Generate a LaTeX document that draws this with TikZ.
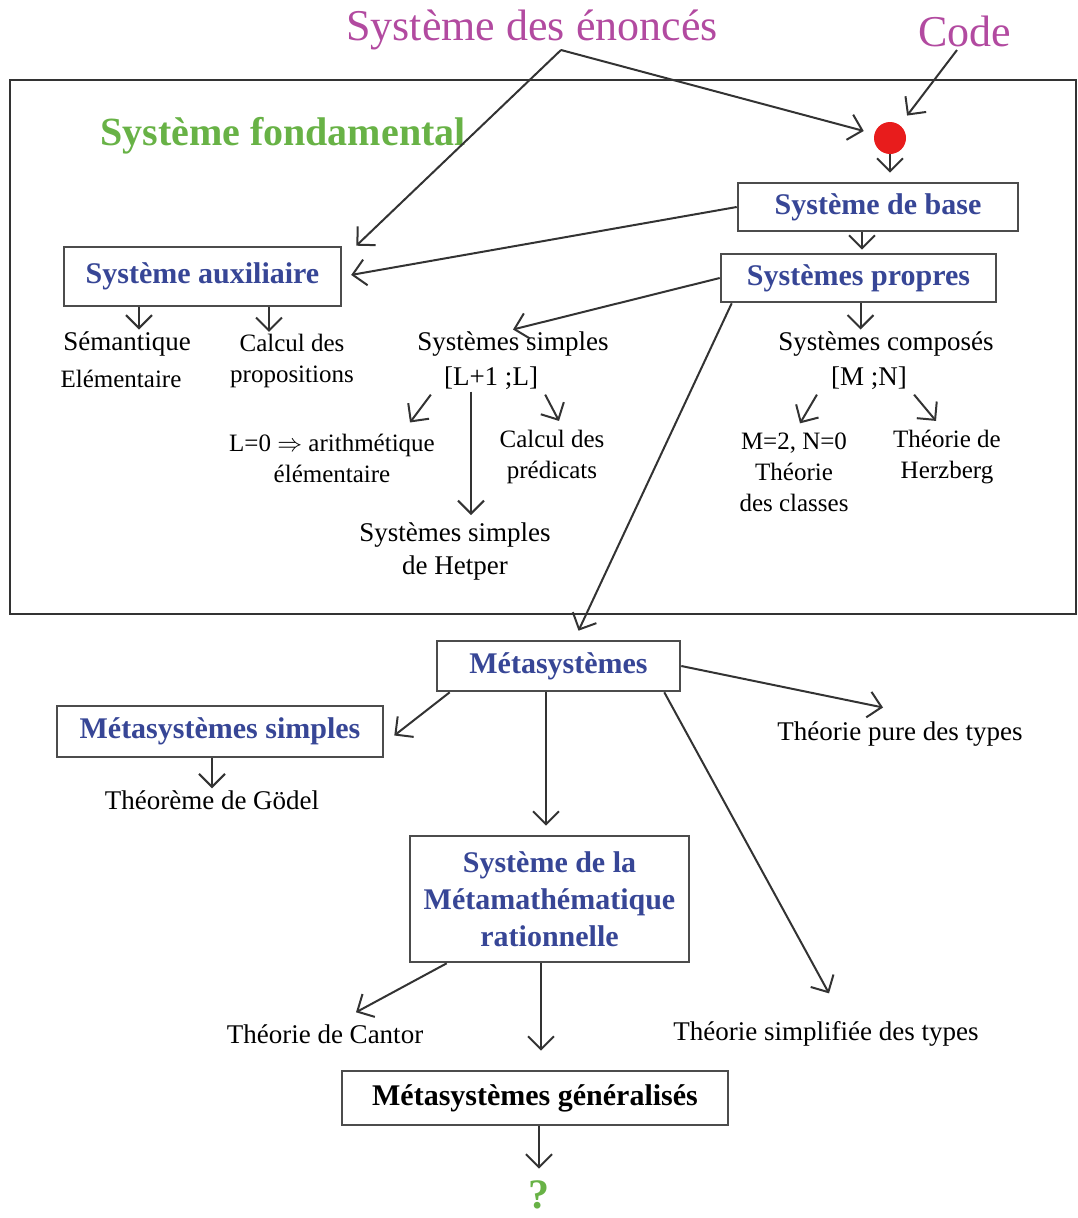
\documentclass[tikz,border=0pt]{standalone}
\usepackage{amsmath}
\usepackage{fontspec}
\setmainfont{Liberation Serif}
\usepackage{tikz}
\usetikzlibrary{arrows.meta, calc, positioning}

\definecolor{boxblue}{RGB}{55,70,150}
\definecolor{titlepink}{RGB}{178,74,160}
\definecolor{titlegreen}{RGB}{104,178,70}
\definecolor{dotred}{RGB}{232,28,28}

\tikzset{
  arr/.style={-{Straight Barb[length=13pt,width=26pt,line width=2pt]}, line width=2pt, black!80},
  sysbox/.style={draw=black!70, line width=2.6pt, fill=white, text=boxblue,
    font=\fontsize{30}{37}\selectfont\bfseries, align=center, inner sep=0pt},
  txt/.style={font=\fontsize{27}{33}\selectfont, align=center, inner sep=2pt},
  smalltxt/.style={font=\fontsize{25}{31}\selectfont, align=center, inner sep=2pt},
}

\begin{document}
\begin{tikzpicture}[x=1pt, y=-1pt]
      \useasboundingbox (0,0) rectangle (1077,1218);
      %
      \draw[line width=2pt, black!80] (10,80) rectangle (1076,614);
      %
      \node[font=\fontsize{44}{50}\selectfont, text=titlepink] (enonces) at (532,30) {Système des énoncés};
      \node[font=\fontsize{44}{50}\selectfont, text=titlepink] (code) at (965,31) {Code};
      \coordinate (fork) at (561,50);
      \node[font=\fontsize{40}{46}\selectfont\bfseries, text=titlegreen] (fond) at (283,136) {Système fondamental};
      \node[circle, fill=dotred, minimum size=32pt, inner sep=0pt] (dot) at (890,138) {};
      %
      \node[sysbox, minimum width=280pt, minimum height=48pt] (base) at (878,207) {Système de base};
      \node[sysbox, minimum width=275pt, minimum height=48pt] (propres) at (858.5,278) {Systèmes propres};
      \node[sysbox, minimum width=277pt, minimum height=59pt] (aux) at (202.5,276.5) {Système auxiliaire};
      %
      \node[txt] (sem) at (127,344) {Sémantique};
      \node[smalltxt] (elem) at (121,379) {Elémentaire};
      \node[smalltxt] (calcprop) at (292,361) {Calcul des\\propositions};
      \node[txt] (ssimples) at (513,344) {Systèmes simples};
      \node[txt] (lun) at (491,378) {[L+1 ;L]};
      \node[smalltxt] (lzero) at (332,458) {L=0 $\Rightarrow$ arithmétique\\élémentaire};
      \node[smalltxt] (pred) at (552,457) {Calcul des\\prédicats};
      \node[txt] (hetper) at (455,551) {Systèmes simples\\de Hetper};
      \node[txt] (scomp) at (886,344) {Systèmes composés};
      \node[txt] (mn) at (869,378) {[M ;N]};
      \node[smalltxt] (classes) at (794,472) {M=2, N=0\\Théorie\\des classes};
      \node[smalltxt] (herz) at (947,457) {Théorie de\\Herzberg};
      %
      \node[sysbox, minimum width=243pt, minimum height=50pt] (meta) at (558.5,666) {Métasystèmes};
      \node[sysbox, minimum width=326pt, minimum height=51pt] (msimples) at (220,731.5) {Métasystèmes simples};
      \node[txt] (godel) at (212,800) {Théorème de Gödel};
      \node[txt] (pure) at (900,734) {Théorie pure des types};
      \node[sysbox, minimum width=279pt, minimum height=126pt] (metamath) at (549.5,899) {Système de la\\Métamathématique\\rationnelle};
      \node[txt] (cantor) at (325,1034) {Théorie de Cantor};
      \node[txt] (simpl) at (826,1034) {Théorie simplifiée des types};
      \node[sysbox, text=black, minimum width=386pt, minimum height=54pt] (gen) at (535,1098) {Métasystèmes généralisés};
      \node[font=\fontsize{42}{48}\selectfont\bfseries, text=titlegreen, inner sep=0pt] (quest) at (539,1195) {?};
      %
      \coordinate (lunfoot) at ($(lun.south)+(-20,0)$);
      %
      \draw[arr, shorten >=11pt] (fork) -- (dot);
      \draw[arr] (fork) -- ([xshift=14pt]aux.north east);
      \draw[arr, shorten >=12pt] ([xshift=-8pt]code.south) -- (dot);
      \draw[arr, shorten >=9pt] (dot.south) -- (dot.south |- base.north);
      \draw[arr, shorten >=3pt] ([xshift=-16pt]base.south) -- ([xshift=-16pt]base.south |- propres.north);
      \draw[arr, shorten >=9pt] (base.west) -- (aux.east);
      %
      \draw[arr] ([xshift=-63.5pt]aux.south) -- ([xshift=-63.5pt]aux.south |- sem.north);
      \draw[arr] ([xshift=66.5pt]aux.south) -- ([xshift=66.5pt]aux.south |- calcprop.north);
      \draw[arr] (propres.west) -- (ssimples.north);
      \draw[arr] ([xshift=2pt]propres.south) -- ([xshift=2pt]propres.south |- scomp.north);
      \draw[arr] ([xshift=12pt]propres.south west) -- ($(meta.north)+(20,-9)$);
      %
      \draw[arr] ([xshift=-11pt,yshift=-3pt]lun.south west) -- ($(lzero.north)+(78,-9)$);
      \draw[arr] ([xshift=5pt,yshift=-3pt]lun.south east) -- ($(pred.north)+(7,-7)$);
      \draw[arr, shorten >=5pt] (lunfoot) -- (lunfoot |- hetper.north);
      \draw[arr] ([xshift=-12pt,yshift=-3pt]mn.south west) -- ($(classes.north)+(6,-7)$);
      \draw[arr] ([xshift=5pt,yshift=-3pt]mn.south east) -- ($(herz.north)+(-11,-7)$);
      %
      \draw[arr] ([xshift=14pt]meta.south west) -- ([xshift=10pt,yshift=-4pt]msimples.east);
      \draw[arr] (meta.east) -- ($(pure.north)+(-17,-12)$);
      \draw[arr] (msimples.south -| godel) -- (godel.north);
      \draw[arr, shorten >=9pt] ([xshift=-12.5pt]meta.south) -- ([xshift=-12.5pt]meta.south |- metamath.north);
      \draw[arr] ([xshift=-17pt]meta.south east) -- ($(simpl.north)+(3,-26)$);
      \draw[arr] ([xshift=38pt]metamath.south west) -- ($(cantor.north)+(31,-10)$);
      \draw[arr, shorten >=19pt] ([xshift=-8.5pt]metamath.south) -- ([xshift=-8.5pt]metamath.south |- gen.north);
      \draw[arr, shorten >=12pt] (gen.south -| quest) -- (quest.north);
    \end{tikzpicture}
\end{document}
